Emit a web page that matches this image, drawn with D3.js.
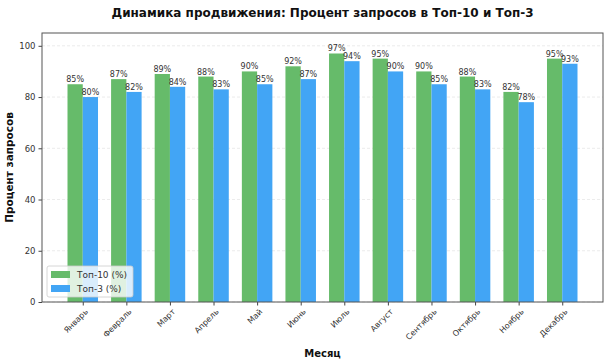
<!DOCTYPE html>
<html>
<head>
<meta charset="utf-8">
<script src="https://cdn.jsdelivr.net/npm/d3@7"></script>
<style>
  body { margin: 0; background: #fff; }
  svg text { font-family: "DejaVu Sans", sans-serif; }
</style>
</head>
<body>
<svg id="chart" width="610" height="364"></svg>
<script>
// chart data
let MONTHS = ['Январь', 'Февраль', 'Март', 'Апрель', 'Май', 'Июнь', 'Июль', 'Август', 'Сентябрь', 'Октябрь', 'Ноябрь', 'Декабрь'];
let TOP10 = [85, 87, 89, 88, 90, 92, 97, 95, 90, 88, 82, 95];
let TOP3 = [80, 82, 84, 83, 85, 87, 94, 90, 85, 83, 78, 93];
let Y_TICKS = [0, 20, 40, 60, 80, 100];
let SERIES_NAMES = ['Топ-10 (%)', 'Топ-3 (%)'];

let GREEN = '#66bb6a';
let BLUE = '#42a5f5';
let BAR_W = 0.35;

let margin = { left: 42, right: 7, top: 33, bottom: 62 };
let W = 610, H = 364;

let svg = d3.select('#chart');

// linear x like matplotlib: bars span -0.35..11.35 plus 5% margins
let span = (MONTHS.length - 1) + 2 * BAR_W;
let x = d3.scaleLinear()
    .domain([-BAR_W - span * 0.05, MONTHS.length - 1 + BAR_W + span * 0.05])
    .range([margin.left, W - margin.right]);
let y = d3.scaleLinear()
    .domain([0, 105])
    .range([H - margin.bottom, margin.top]);

// grid
svg.append('g').selectAll('line').data(Y_TICKS).enter().append('line')
    .attr('x1', margin.left).attr('x2', W - margin.right)
    .attr('y1', d => y(d)).attr('y2', d => y(d))
    .attr('stroke', '#e6e6e6').attr('stroke-width', 0.8)
    .attr('stroke-dasharray', '3,2');

// bars
let series = [
    { name: SERIES_NAMES[0], values: TOP10, color: GREEN, offset: -BAR_W / 2 },
    { name: SERIES_NAMES[1], values: TOP3, color: BLUE, offset: BAR_W / 2 }
];
series.forEach(s => {
    let g = svg.append('g');
    g.selectAll('rect').data(s.values).enter().append('rect')
        .attr('x', (d, i) => x(i + s.offset - BAR_W / 2))
        .attr('width', x(BAR_W) - x(0))
        .attr('y', d => y(d))
        .attr('height', d => y(0) - y(d))
        .attr('fill', s.color);
    g.selectAll('text').data(s.values).enter().append('text')
        .attr('x', (d, i) => x(i + s.offset))
        .attr('y', d => y(d) - 2)
        .attr('text-anchor', 'middle')
        .attr('font-size', 8)
        .attr('fill', '#333')
        .text(d => d + '%');
});

// axes
let yAxis = svg.append('g')
    .attr('transform', `translate(${margin.left},0)`)
    .call(d3.axisLeft(y).tickValues(Y_TICKS).tickSize(3.5).tickPadding(3));
let xAxis = svg.append('g')
    .attr('transform', `translate(0,${H - margin.bottom})`)
    .call(d3.axisBottom(x).tickValues(d3.range(MONTHS.length)).tickFormat(i => MONTHS[i]).tickSize(3.5).tickPadding(2));
[xAxis, yAxis].forEach(a => {
    a.select('.domain').remove();
    a.selectAll('line').attr('stroke', '#444');
    a.selectAll('text').attr('fill', '#333').attr('font-family', '"DejaVu Sans", sans-serif');
});
yAxis.selectAll('text').attr('font-size', 8.5);
// rotated labels: top-right corner of text sits just under the tick
xAxis.selectAll('text')
    .attr('font-size', 8)
    .attr('text-anchor', 'end')
    .attr('y', 0)
    .attr('dy', '0.75em')
    .attr('transform', 'translate(1,6) rotate(-45)');

// frame
svg.append('rect')
    .attr('x', margin.left).attr('y', margin.top)
    .attr('width', W - margin.left - margin.right)
    .attr('height', H - margin.top - margin.bottom)
    .attr('fill', 'none').attr('stroke', '#555').attr('stroke-width', 1);

// titles
svg.append('text')
    .attr('x', (margin.left + W - margin.right) / 2).attr('y', 17)
    .attr('text-anchor', 'middle').attr('font-size', 12).attr('font-weight', 'bold')
    .attr('fill', '#111')
    .text('Динамика продвижения: Процент запросов в Топ-10 и Топ-3');
svg.append('text')
    .attr('x', (margin.left + W - margin.right) / 2).attr('y', 357)
    .attr('text-anchor', 'middle').attr('font-size', 10).attr('font-weight', 'bold')
    .attr('fill', '#111')
    .text('Месяц');
svg.append('text')
    .attr('transform', `translate(13,${(margin.top + H - margin.bottom) / 2}) rotate(-90)`)
    .attr('text-anchor', 'middle').attr('font-size', 10.5).attr('font-weight', 'bold')
    .attr('fill', '#111')
    .text('Процент запросов');

// legend
let legend = svg.append('g').attr('transform', 'translate(47,266)');
legend.append('rect')
    .attr('width', 86).attr('height', 31).attr('rx', 2)
    .attr('fill', 'rgba(255,255,255,0.8)').attr('stroke', '#ccc').attr('stroke-width', 0.8);
let items = legend.selectAll('g.item').data(series).enter().append('g')
    .attr('transform', (d, i) => `translate(4,${5 + i * 14})`);
items.append('rect').attr('width', 19).attr('height', 7).attr('fill', d => d.color);
items.append('text')
    .attr('x', 26).attr('y', 7)
    .attr('font-size', 9).attr('fill', '#333')
    .text(d => d.name);
</script>
</body>
</html>
